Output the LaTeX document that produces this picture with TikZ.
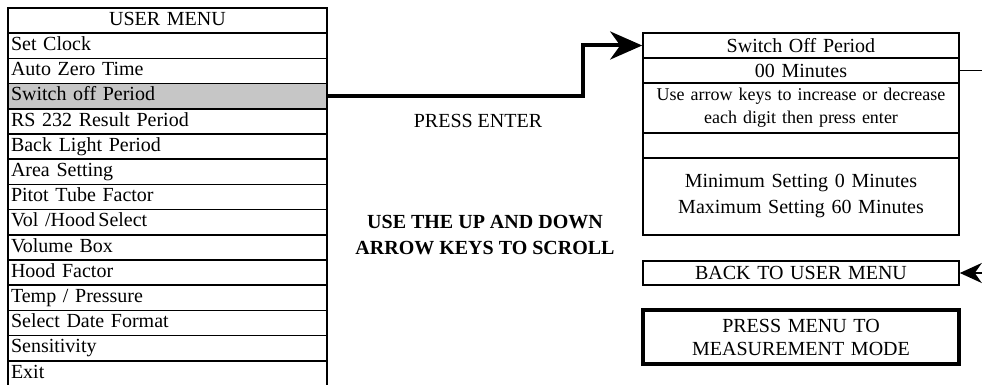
\documentclass[tikz,border=0pt]{standalone}
\usepackage{fontspec}
\setmainfont{Liberation Serif}
\usetikzlibrary{arrows.meta}

\begin{document}
\begin{tikzpicture}[
    x=0.5pt, y=-0.5pt,
    item/.style={draw, line width=0.8pt, minimum width=159.5pt, minimum height=12.6pt,
                 text width=156.5pt, align=left, inner sep=1.5pt,
                 text height=7pt, text depth=2.2pt, font=\fontsize{10}{12}\selectfont},
    headcell/.style={item, align=center},
    panel/.style={draw, line width=0.8pt, minimum width=158pt, text width=155pt,
                  inner sep=1.5pt, align=center, font=\fontsize{10}{13}\selectfont},
    flow/.style={line width=2pt, -{Stealth[length=16pt, width=14pt, inset=5pt]}},
    back/.style={line width=1pt, -{Stealth[length=11pt, width=10pt, inset=3.5pt]}}
  ]
  \useasboundingbox (0,0) rectangle (982,385);

  % User menu
  \node[headcell] (head)  at (167.5,20.6)  {USER MENU};
  \node[item] (clock)  at (167.5,45.8)  {Set Clock};
  \node[item] (zero)   at (167.5,71.0)  {Auto Zero Time};
  \node[item, fill=gray!45] (swoff) at (167.5,96.2) {Switch off Period};
  \node[item] (rs)     at (167.5,121.4) {RS 232 Result Period};
  \node[item] (light)  at (167.5,146.6) {Back Light Period};
  \node[item] (area)   at (167.5,171.8) {Area Setting};
  \node[item] (pitot)  at (167.5,197.0) {Pitot Tube Factor};
  \node[item] (vol)    at (167.5,222.2) {Vol /Hood\,Select};
  \node[item] (volbox) at (167.5,247.4) {Volume Box};
  \node[item] (hood)   at (167.5,272.6) {Hood Factor};
  \node[item] (temp)   at (167.5,297.8) {Temp / Pressure};
  \node[item] (date)   at (167.5,323.0) {Select Date Format};
  \node[item] (sens)   at (167.5,348.2) {Sensitivity};
  \node[item] (exit)   at (167.5,373.4) {Exit};

  % Notes
  \node[font=\fontsize{10}{12}\selectfont] (enter) at (478,121) {PRESS ENTER};
  \node[font=\fontsize{10}{13}\selectfont\bfseries, align=center] (scroll) at (485,235)
    {USE THE UP AND DOWN\\ARROW KEYS TO SCROLL};

  % Setting panel
  \node[panel, minimum height=12.5pt] (title) at (801,45.5)  {Switch Off Period};
  \node[panel, minimum height=12.5pt] (mins)  at (801,70.5)  {00 Minutes};
  \node[panel, minimum height=25pt, font=\fontsize{9}{11.5}\selectfont] (hint) at (801,108)
    {Use arrow keys to increase or decrease\\each digit then press enter};
  \node[panel, minimum height=12.5pt] (blank) at (801,145.5) {};
  \node[panel, minimum height=38.5pt] (range) at (801,196.5)
    {Minimum Setting 0 Minutes\\Maximum Setting 60 Minutes};
  \node[panel, minimum height=12pt] (back) at (801,273) {BACK TO USER MENU};
  \node[panel, minimum height=27pt, line width=2pt, font=\fontsize{10}{11.5}\selectfont] (mode) at (801,337)
    {PRESS MENU TO\\MEASUREMENT MODE};

  % Connectors
  \coordinate (outA) at (982,70.5);
  \coordinate (outB) at (982,273);
  \draw[flow] (swoff.east) -- ++(255,0) |- (title.west);
  \draw[line width=0.8pt] (mins.east) -- (outA);
  \draw[back] (outB) -- (back.east);
\end{tikzpicture}
\end{document}
